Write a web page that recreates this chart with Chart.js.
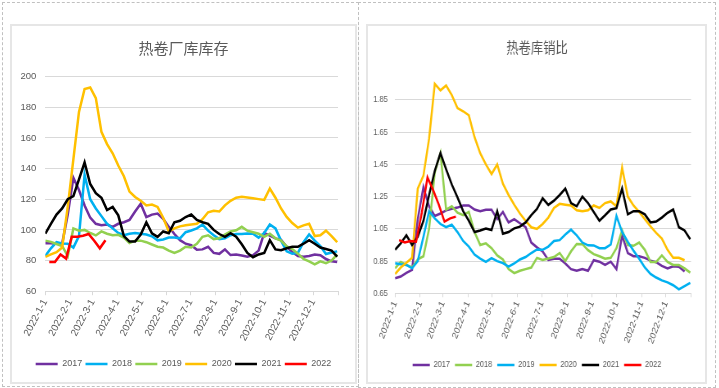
<!DOCTYPE html>
<html><head><meta charset="utf-8">
<script src="https://cdn.jsdelivr.net/npm/chart.js@4.4.0/dist/chart.umd.min.js"></script>
<style>
html,body{margin:0;padding:0;background:#fff;}
body{width:719px;height:388px;position:relative;overflow:hidden;}
.dash{position:absolute;border:1px dashed #C0C0C0;box-sizing:border-box;}
.box{position:absolute;border:2px solid #E6E6E6;box-sizing:border-box;background:#fff;}
.cw{position:absolute;}
</style></head><body>
<div class="dash" style="left:2px;top:2px;width:357px;height:385px"></div>
<div class="dash" style="left:358px;top:2px;width:358px;height:386px"></div>
<div class="box" style="left:10px;top:24px;width:347px;height:360px"></div>
<div class="box" style="left:366px;top:24px;width:341px;height:360px"></div>
<div class="cw" style="left:11px;top:26px;width:345px;height:356px"><canvas id="c1" width="345" height="356"></canvas></div>
<div class="cw" style="left:367px;top:26px;width:415px;height:356px;transform:scaleX(0.8193);transform-origin:0 0"><canvas id="c2" width="415" height="356"></canvas></div>
<script>
// ---- shared axis data ----
const monthDays = [0,31,59,90,120,151,181,212,243,273,304,334,365];
const monthLabels = ['2022-1-1','2022-2-1','2022-3-1','2022-4-1','2022-5-1','2022-6-1','2022-7-1','2022-8-1','2022-9-1','2022-10-1','2022-11-1','2022-12-1',''];
const years = ['2017','2018','2019','2020','2021','2022'];
const startDays = [0,0,0,0,0,5];   // first weekly observation (day of year)

// ---- 热卷厂库库存 (weekly) ----
const inv2017 = [91.3,91.3,91,91,110,134,126,116,108,104, 103,103.5,102,104,105,106.5,112,117,108.4,110, 110.7,107.3,102,97.3,93.3,91,90,87,87.3,89, 85,84.4,87.3,83.6,84,83.3,82.5,83.5,86.5,98, 96.2,94.5,93.5,89,85.5,83,82.5,83,84,83.5, 81,79.5,79];
const inv2018 = [83,88,92,91.2,91,88.5,96,136,120,114, 109,104,101,98,96.5,97.5,98,97.5,97,95.8, 93.2,93.8,95,95,94.5,98.5,99.6,101,103.5,99.5, 96.5,94,94.5,96.5,97.3,97.3,97.6,97.5,95,98, 103.5,101,93,86,84.5,85,92,97,93,89.5, 84.3,85.3,86];
const inv2019 = [93,92.2,90.8,89.5,83,101,99.5,100,98,96.4, 99,97.5,96.5,96.8,95,91.5,93,93,92,90.5, 89,88.5,86.5,85,86.5,89,88.5,91,95.5,96.5, 94,94.5,97,99,99.8,102,99.5,98.5,97.5,95.5, 97.5,94.5,93,89.3,87.5,84.5,81,79.5,77.5,79.5, 78.3,80,84];
const inv2020 = [82.4,84,85.5,88.5,115,146,177,192,193,186, 164,156,150,142,135,125,121.5,119,116,116.5, 115,108,99,101,102.3,103,103.5,104,107,111.5, 112.5,112,116,119,121,121.6,121.1,120.6,120.1,119.6, 127,121,114,108.5,104.5,101.5,103,104,96,96.5, 99.5,96,92];
const inv2021 = [97.5,104,110,114,120,122,133,144,130,124, 121,113,115,109.5,96,92.4,92.4,97,105,97.8, 95.5,99,97.8,105,106,108.4,110,106.5,105,104, 100,97.3,95.5,97.8,95.5,90.6,85,82.2,84,85, 93.3,87.3,86.7,88,89,89,91,93.3,91,88.5, 87.5,86.5,82.5];
const inv2022 = [79,79,84,81.3,95.5,95.5,96.2,97.3,92.9,88,93.3];
const invTicks = [60,80,100,120,140,160,180,200];

// ---- 热卷库销比 (weekly) ----
const ratio2017 = [0.743,0.754,0.777,0.795,1.11,1.31,1.19,1.13,1.145,1.165, 1.175,1.182,1.195,1.195,1.17,1.16,1.168,1.168,1.11,1.155, 1.09,1.11,1.085,1.06,0.965,0.935,0.91,0.857,0.865,0.865, 0.835,0.80,0.79,0.80,0.79,0.855,0.846,0.826,0.846,0.80, 1.01,0.90,0.88,0.88,0.87,0.853,0.843,0.82,0.805,0.818, 0.815,0.785];
const ratio2018 = [0.805,0.845,0.826,0.81,0.86,0.88,1.05,1.40,1.52,1.17, 1.19,1.15,1.135,1.155,1.03,0.95,0.96,0.93,0.885,0.86, 0.80,0.775,0.79,0.80,0.81,0.87,0.857,0.866,0.875,0.90, 0.85,0.91,0.956,0.955,0.918,0.893,0.88,0.865,0.87,0.93, 1.04,0.95,0.945,0.965,0.92,0.845,0.845,0.885,0.845,0.826, 0.826,0.805,0.778];
const ratio2019 = [0.836,0.83,0.826,0.805,0.85,1.0,1.16,1.115,1.08,1.06, 1.076,1.03,0.975,0.94,0.89,0.865,0.845,0.868,0.85,0.837, 0.815,0.835,0.86,0.875,0.90,0.922,0.92,0.94,0.975,0.98, 1.015,1.045,1.01,0.965,0.948,0.947,0.93,0.93,0.953,1.13, 1.03,0.97,0.915,0.865,0.81,0.77,0.748,0.73,0.718,0.70, 0.675,0.695,0.715];
const ratio2020 = [0.77,0.81,0.84,0.87,1.30,1.38,1.61,1.95,1.91,1.94, 1.88,1.80,1.78,1.755,1.62,1.52,1.45,1.39,1.45,1.33, 1.26,1.20,1.145,1.10,1.06,1.05,1.08,1.12,1.18,1.205, 1.20,1.195,1.165,1.16,1.165,1.195,1.18,1.21,1.22,1.19, 1.43,1.25,1.195,1.155,1.11,1.065,1.025,0.99,0.92,0.87, 0.87,0.855];
const ratio2021 = [0.92,0.96,1.01,0.95,1.00,1.10,1.26,1.41,1.52,1.42, 1.325,1.245,1.16,1.10,1.03,1.04,1.052,1.043,1.16,1.02, 1.03,1.053,1.064,1.09,1.135,1.174,1.24,1.199,1.225,1.26, 1.30,1.21,1.19,1.25,1.21,1.155,1.10,1.134,1.17,1.178, 1.30,1.14,1.16,1.16,1.14,1.09,1.095,1.12,1.15,1.17, 1.06,1.04,0.985];
const ratio2022 = [0.98,0.965,0.975,0.97,1.15,1.37,1.29,1.20,1.095,1.115,1.126];
const ratioTicks = [0.65,0.85,1.05,1.25,1.45,1.65,1.85];

const invColors   = ['#7030A0','#00B0F0','#92D050','#FFC000','#000000','#FF0000'];
const ratioColors = ['#7030A0','#92D050','#00B0F0','#FFC000','#000000','#FF0000'];

const TXT = '#595959', GRID = '#D9D9D9';
const FONT = "'Liberation Sans', Arial, sans-serif";

function toPoints(vals, start){ return vals.map((v,i)=>({x:start+7*i, y:v})); }

function build(id, o){
  const datasets = o.series.map((vals,i)=>({
    label: years[i], data: toPoints(vals, startDays[i]),
    borderColor: o.colors[i], backgroundColor: o.colors[i],
    borderWidth: 2.5, pointRadius: 0, tension: 0, order: o.series.length - i
  }));
  return new Chart(document.getElementById(id), {
    type: 'line',
    data: { datasets },
    options: {
      responsive: false, animation: false, devicePixelRatio: 1,
      layout: { padding: { left: 0, right: 0, top: 0, bottom: o.padB } },
      plugins: {
        title: { display: true, text: o.title, color: TXT,
          font: { family: "'Noto Sans CJK SC', sans-serif", size: 15, weight: 'normal' },
          padding: { top: o.tTop, bottom: o.tBot } },
        legend: { position: 'bottom',
          labels: { usePointStyle: true, pointStyle: 'line', pointStyleWidth: o.boxW,
            color: TXT, font: { family: FONT, size: 9 }, padding: o.legPad,
            sort: (a,b)=>a.datasetIndex-b.datasetIndex } },
        tooltip: { enabled: false }
      },
      scales: {
        x: { type: 'linear', min: 0, max: 365,
          afterBuildTicks: s => { s.ticks = monthDays.map(v=>({value:v})); },
          afterFit: s => { s.height = o.xH; },
          ticks: { autoSkip: false, minRotation: o.rot, maxRotation: o.rot, padding: 2,
            color: TXT, font: { family: FONT, size: 10 },
            callback: (v, i) => monthLabels[i] },
          grid: { drawOnChartArea: false, drawTicks: true, tickLength: 4, color: GRID },
          border: { display: true, color: GRID, width: 1 } },
        y: { min: o.yMin, max: o.yMax,
          afterBuildTicks: s => { s.ticks = o.yTicks.map(v=>({value:v})); },
          afterFit: s => { s.width = o.yW; },
          ticks: { padding: 9, color: TXT, font: { family: FONT, size: o.yFont },
            callback: v => o.fmt(v) },
          grid: { color: GRID, drawTicks: false },
          border: { display: false } },
        // empty right-hand margin so title and legend stay centred on the whole panel
        yRight: { type: 'linear', position: 'right', display: true,
          afterFit: s => { s.width = o.padR; },
          ticks: { display: false }, grid: { display: false }, border: { display: false } }
      }
    }
  });
}

build('c1', {
  title: '热卷厂库库存', series: [inv2017,inv2018,inv2019,inv2020,inv2021,inv2022], colors: invColors,
  yMin: 60, yMax: 200, yTicks: invTicks, fmt: v => String(v), yFont: 9.5,
  padR: 18, padB: 3.5, tTop: 13, tBot: 19.7, yW: 34.3, xH: 65, boxW: 22, legPad: 3.3, rot: 62
});
build('c2', {
  title: '热卷库销比', series: [ratio2017,ratio2018,ratio2019,ratio2020,ratio2021,ratio2022], colors: ratioColors,
  yMin: 0.65, yMax: 2.0, yTicks: ratioTicks, fmt: v => v.toFixed(2), yFont: 9,
  padR: 19.5, padB: 2.5, tTop: 12, tBot: 19.8, yW: 34.2, xH: 61.1, boxW: 21, legPad: 6.1, rot: 66
});
</script>
</body></html>
